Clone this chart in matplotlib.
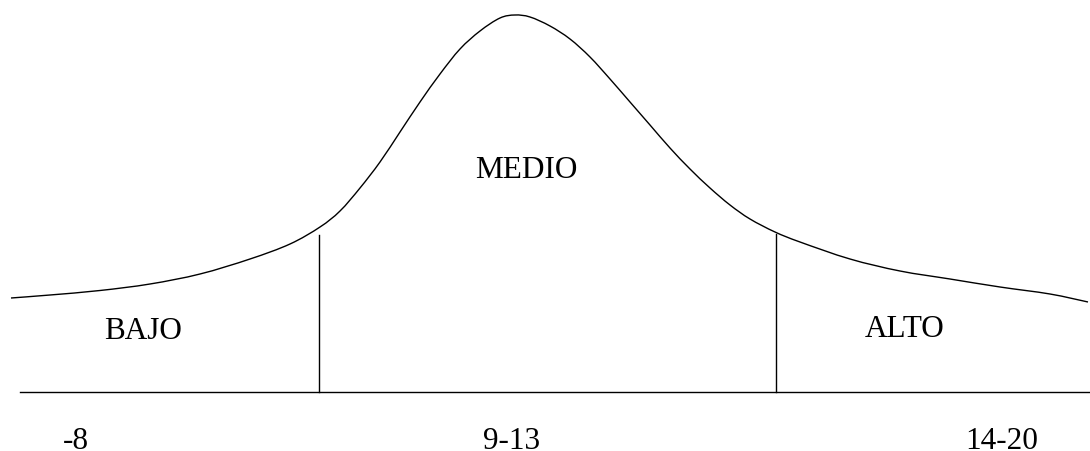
import matplotlib
matplotlib.use('Agg')
import matplotlib.pyplot as plt
from matplotlib.path import Path
from matplotlib.patches import PathPatch

# curve (pixel coords, y grows downward)
curve_x = [11, 50, 100, 150, 200, 250, 290, 320, 340, 360, 380, 400, 420, 440, 460,
           480, 500, 515, 530, 550, 570, 590, 610, 630, 650, 670, 690, 710, 730,
           750, 775, 800, 850, 900, 950, 1000, 1050, 1088]
curve_y = [299, 296, 291.5, 285, 275, 260, 245, 228, 212, 189, 163, 133, 103, 75, 50,
           32, 19, 16, 18, 27, 40, 58, 80, 103, 126, 149, 170, 189, 206,
           220, 233, 243, 260, 272, 280, 288, 295, 303]

# dividers between the groups
cut_x = [319, 776]
cut_top = [236, 235]
base_y = 393
base_x = [20, 1090]

zones = ['BAJO', 'MEDIO', 'ALTO']
zone_x = [143, 526, 905]
zone_y = [339, 178, 337]

ranges = ['-8', '9-13', '14-20']
range_x = [76, 512, 1002]
range_y = [449, 449, 449]


def smooth_path(xs, ys):
    # cubic bezier segments through the traced points (catmull-rom tangents)
    pts = list(zip(xs, ys))
    verts = [pts[0]]
    codes = [Path.MOVETO]
    n = len(pts)
    for i in range(n - 1):
        p0 = pts[i - 1] if i > 0 else pts[i]
        p1 = pts[i]
        p2 = pts[i + 1]
        p3 = pts[i + 2] if i + 2 < n else pts[i + 1]
        c1 = (p1[0] + (p2[0] - p0[0]) / 6, p1[1] + (p2[1] - p0[1]) / 6)
        c2 = (p2[0] - (p3[0] - p1[0]) / 6, p2[1] - (p3[1] - p1[1]) / 6)
        verts += [c1, c2, p2]
        codes += [Path.CURVE4] * 3
    return Path(verts, codes)


fig = plt.figure(figsize=(10.9, 4.52), dpi=100)
ax = fig.add_axes([0, 0, 1, 1])
ax.set_xlim(0, 1090)
ax.set_ylim(452, 0)
ax.axis('off')

ax.add_patch(PathPatch(smooth_path(curve_x, curve_y), facecolor='none',
                       edgecolor='black', lw=1.0))
ax.plot(base_x, [base_y, base_y], color='black', lw=1.0)
for x, top in zip(cut_x, cut_top):
    ax.plot([x, x], [base_y, top], color='black', lw=1.0)

for t, x, y in zip(zones, zone_x, zone_y):
    ax.text(x, y, t, ha='center', va='baseline', fontsize=22.5, family='Liberation Serif')
for t, x, y in zip(ranges, range_x, range_y):
    ax.text(x, y, t, ha='center', va='baseline', fontsize=22.5, family='Liberation Serif')

fig.savefig('out.png', dpi=100)
